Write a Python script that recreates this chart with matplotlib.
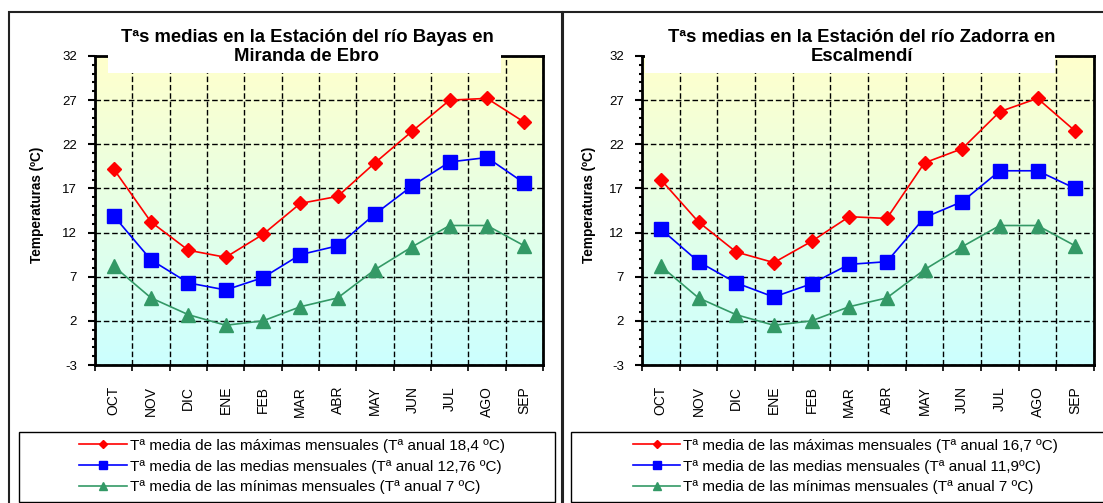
import numpy as np
import matplotlib
matplotlib.use("Agg")
import matplotlib.pyplot as plt
from matplotlib.patches import Rectangle
from matplotlib.lines import Line2D
from matplotlib.colors import LinearSegmentedColormap

months = ["OCT", "NOV", "DIC", "ENE", "FEB", "MAR", "ABR", "MAY", "JUN", "JUL", "AGO", "SEP"]

bayas_max = [19.2, 13.2, 10.0, 9.2, 11.8, 15.3, 16.1, 19.9, 23.5, 27.0, 27.2, 24.5]
bayas_med = [13.9, 8.9, 6.3, 5.5, 6.9, 9.5, 10.5, 14.1, 17.3, 20.0, 20.5, 17.6]
bayas_min = [8.2, 4.6, 2.7, 1.5, 2.0, 3.6, 4.6, 7.8, 10.4, 12.8, 12.8, 10.5]

zadorra_max = [18.0, 13.2, 9.8, 8.6, 11.0, 13.8, 13.6, 19.9, 21.5, 25.7, 27.2, 23.5]
zadorra_med = [12.4, 8.7, 6.3, 4.7, 6.2, 8.4, 8.7, 13.7, 15.5, 19.0, 19.0, 17.0]
zadorra_min = [8.2, 4.6, 2.7, 1.5, 2.0, 3.6, 4.6, 7.8, 10.4, 12.8, 12.8, 10.5]

bayas_title = "Tªs medias en la Estación del río Bayas en\nMiranda de Ebro"
zadorra_title = "Tªs medias en la Estación del río Zadorra en\nEscalmendí"

bayas_labels = [
    "Tª media de las máximas mensuales (Tª anual 18,4 ºC)",
    "Tª media de las medias mensuales (Tª anual 12,76 ºC)",
    "Tª media de las mínimas mensuales (Tª anual 7 ºC)",
]
zadorra_labels = [
    "Tª media de las máximas mensuales (Tª anual 16,7 ºC)",
    "Tª media de las medias mensuales (Tª anual 11,9ºC)",
    "Tª media de las mínimas mensuales (Tª anual 7 ºC)",
]

W, H = 1103, 503
RED = "#FF0000"
BLUE = "#0000FF"
GREEN = "#339966"

plt.rcParams["font.family"] = ["Liberation Sans", "DejaVu Sans"]
plt.rcParams["axes.unicode_minus"] = False


def fx(x):
    return x / W


def fy(y):
    return 1 - y / H


def px_rect(fig, x0, y0, x1, y1, **kw):
    r = Rectangle((fx(x0), fy(y1)), fx(x1) - fx(x0), (y1 - y0) / H,
                  transform=fig.transFigure, **kw)
    fig.patches.append(r)
    return r


def draw_chart(fig, left, right, title, title_x, white_box, ylab_x,
               legend_box, maxs, meds, mins, labels):
    top, bottom = 56, 365
    ax = fig.add_axes([fx(left), fy(bottom), fx(right) - fx(left), (bottom - top) / H])

    cmap = LinearSegmentedColormap.from_list("bg", ["#CCFFFF", "#FFFFCC"])
    grad = np.linspace(0, 1, 256).reshape(-1, 1)
    ax.imshow(grad, extent=(-0.5, 11.5, -3, 32), origin="lower", aspect="auto",
              cmap=cmap, zorder=0)

    x = np.arange(len(months))
    ax.plot(x, mins, color=GREEN, lw=1.2, marker="^", ms=10, zorder=3)
    ax.plot(x, meds, color=BLUE, lw=1.2, marker="s", ms=10, zorder=3)
    ax.plot(x, maxs, color=RED, lw=1.2, marker="D", ms=7, zorder=3)

    ax.set_xlim(-0.5, 11.5)
    ax.set_ylim(-3, 32)
    ax.set_xticks(x)
    ax.set_xticklabels(months, rotation=90, fontsize=10)
    ax.set_xticks(np.arange(-0.5, 12, 1), minor=True)
    ax.set_yticks(np.arange(-3, 33, 5))
    ax.set_yticks(np.arange(-3, 33, 1), minor=True)
    ax.tick_params(axis="x", which="major", length=0, pad=15)
    ax.tick_params(axis="x", which="minor", length=4, width=1.2, direction="out")
    ax.tick_params(axis="y", which="major", length=5, width=1.5, labelsize=9.5, pad=8)
    ax.tick_params(axis="y", which="minor", length=2, width=1.5)
    ax.grid(True, axis="y", which="major", color="black", lw=1, linestyle=(0, (4, 2)))
    ax.grid(True, axis="x", which="minor", color="black", lw=1, linestyle=(0, (4, 2)))
    for sp in ax.spines.values():
        sp.set_linewidth(2)
        sp.set_zorder(4)

    # white box behind the title that cuts into the plot area
    px_rect(fig, white_box[0], 40, white_box[1], 73, facecolor="white",
            edgecolor="none", zorder=1)
    fig.text(fx(title_x), fy(47), title, ha="center", va="center",
             fontsize=13.3, fontweight="bold", linespacing=1.12, zorder=3)

    fig.text(fx(ylab_x), fy(205), "Temperaturas (ºC)", rotation=90, ha="center",
             va="center", fontsize=9.8, fontweight="bold")

    # legend frame and entries
    lx0, ly0, lx1, ly1 = legend_box
    px_rect(fig, lx0, ly0, lx1, ly1, facecolor="white", edgecolor="black",
            lw=1, zorder=1)
    handles = [
        Line2D([], [], color=RED, lw=1.2, marker="D", ms=4.5),
        Line2D([], [], color=BLUE, lw=1.2, marker="s", ms=6),
        Line2D([], [], color=GREEN, lw=1.2, marker="^", ms=6),
    ]
    leg = fig.legend(handles, labels, loc="center",
                     bbox_to_anchor=(fx((lx0 + lx1) / 2 + 5), fy((ly0 + ly1) / 2 - 0.5)),
                     frameon=False, fontsize=11, handlelength=3.1,
                     handletextpad=0.2, labelspacing=0.45, borderpad=0)
    leg.set_zorder(3)
    return ax


def main():
    fig = plt.figure(figsize=(W / 100, H / 100), dpi=100)

    # outer chart frames
    px_rect(fig, 9, 12, 562, 520, facecolor="none", edgecolor="#222222", lw=1.5, zorder=1)
    px_rect(fig, 563, 12, 1120, 520, facecolor="none", edgecolor="#222222", lw=1.5, zorder=1)

    draw_chart(fig, 95, 543, bayas_title, 307, (108, 501), 37,
               (19, 432, 555, 502), bayas_max, bayas_med, bayas_min, bayas_labels)
    draw_chart(fig, 642, 1094, zadorra_title, 862, (645, 1055), 589,
               (571, 432, 1110, 502), zadorra_max, zadorra_med, zadorra_min,
               zadorra_labels)

    fig.savefig("out.png", dpi=100)


if __name__ == "__main__":
    main()
